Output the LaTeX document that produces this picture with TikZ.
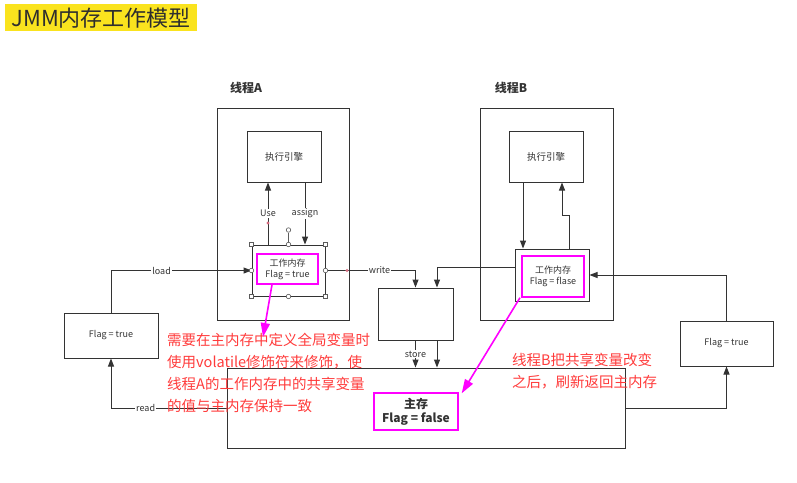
\documentclass[tikz,border=0pt]{standalone}
\usepackage{fontspec}
\setmainfont{Noto Sans CJK SC}
\usetikzlibrary{arrows.meta,positioning}
\definecolor{ink}{HTML}{333333}
\definecolor{note}{HTML}{FF3B3B}
\definecolor{mag}{HTML}{FF00FF}
\definecolor{hilite}{HTML}{FAE31E}
\definecolor{dot}{HTML}{D46A7E}

\begin{document}
\begin{tikzpicture}[x=1pt,y=-1pt,
    every node/.style={font=\fontsize{9}{11}\selectfont,text=ink},
    box/.style={draw=ink,line width=1pt,fill=white,inner sep=0pt},
    mbox/.style={draw=mag,line width=1.4pt,inner sep=0pt,align=center},
    lbl/.style={fill=white,inner sep=1pt},
    flow/.style={draw=ink,line width=1pt,-{Triangle[length=8pt,width=6pt]}},
    callout/.style={draw=mag,line width=1.6pt,-{Triangle[length=14pt,width=9pt]}},
    notetext/.style={text=note,align=left,inner sep=0pt,font=\fontsize{14.5}{22}\selectfont},
    sqhandle/.style={draw=ink!80,fill=white,line width=.6pt,minimum size=4pt,inner sep=0pt},
    cihandle/.style={draw=ink!80,fill=white,line width=.6pt,circle,minimum size=4.5pt,inner sep=0pt}]
  \useasboundingbox (0,0) rectangle (797,482);
  \node[fill=hilite,anchor=north west,minimum width=192pt,minimum height=27pt,inner sep=0pt,
        font=\fontsize{22}{24}\selectfont,text=ink!90!black] (title) at (5,4) {JMM内存工作模型};

  % threads
  \node[font=\fontsize{12}{14}\selectfont\bfseries] (labA) at (246,88) {线程A};
  \node[font=\fontsize{12}{14}\selectfont\bfseries] (labB) at (511,88) {线程B};
  \node[box,minimum width=132pt,minimum height=212pt] (thA) at (283,214) {};
  \node[box,minimum width=133pt,minimum height=212pt] (thB) at (546.5,214) {};
  \node[box,minimum width=74pt,minimum height=51pt,font=\fontsize{9.5}{11}\selectfont] (engA) at (284,156.5) {执行引擎};
  \node[box,minimum width=74pt,minimum height=51pt,font=\fontsize{9.5}{11}\selectfont] (engB) at (546,156.5) {执行引擎};
  \node[box,minimum width=73pt,minimum height=51pt] (wmA) at (288.5,270.5) {};
  \node[mbox,minimum width=61pt,minimum height=30pt] (magA) at (287.5,269) {工作内存\\Flag = true};
  \node[box,minimum width=74pt,minimum height=52pt] (wmB) at (552,275) {};
  \node[mbox,minimum width=62pt,minimum height=41pt] (magB) at (553,276.5) {工作内存\\Flag = flase};

  % outside boxes
  \node[box,minimum width=94pt,minimum height=45pt] (flagL) at (111,335.5) {Flag = true};
  \node[box,minimum width=93pt,minimum height=45pt] (flagR) at (726.5,343.5) {Flag = true};
  \node[box,minimum width=75pt,minimum height=52pt] (mid) at (415.5,314) {};
  \node[box,minimum width=398pt,minimum height=80pt] (main) at (426,408) {};
  \node[mbox,minimum width=84pt,minimum height=37pt,font=\fontsize{12}{14}\selectfont\bfseries] (magM) at (416,411.5) {主存\\Flag = false};

  % thread A
  \draw[flow] ([xshift=-20.5pt]wmA.north) -- node[lbl]{Use} ([xshift=-20.5pt]wmA.north |- engA.south);
  \draw[flow] ([xshift=21pt]engA.south) -- node[lbl]{assign} ([xshift=21pt]engA.south |- wmA.north);
  % thread B
  \draw[flow] ([xshift=-23pt]engB.south) -- ([xshift=-23pt]engB.south |- wmB.north);
  \draw[flow] ([xshift=17pt]wmB.north) -- ++(0,-33) -| ([xshift=16pt]engB.south);

  \draw[flow] (flagL) |- node[lbl,pos=0.68]{load} (wmA);
  \draw[flow] (main.west) -| node[lbl,pos=0.35]{read} (flagL);
  \draw[flow] (wmA) -| node[lbl,pos=0.3]{write} (mid);
  \draw[flow] ([yshift=8pt]wmB.west) -| ([xshift=21.5pt]mid.north);
  \draw[flow] (mid.south) -- node[lbl]{store} (mid.south |- main.north);
  \draw[flow] ([xshift=21.5pt]mid.south) -- ([xshift=21.5pt]mid.south |- main.north);
  \draw[flow] (main.east) -| (flagR);
  \draw[flow] (flagR) |- (wmB);

  % selection handles
  \node[cihandle] (rot) at (288.5,230) {};
  \draw[ink!80,line width=.6pt] (rot) -- (wmA.north);
  \foreach \a in {north west,north east,south west,south east}
    \node[sqhandle] (h-\a) at (wmA.\a) {};
  \foreach \a in {north,south,east,west}
    \node[cihandle] (c-\a) at (wmA.\a) {};
  \fill[dot] (268,223) circle (1.6pt) (347,270.5) circle (1.6pt);

  % notes
  \node[notetext,anchor=north west] (noteA) at (167,333)
    {需要在主内存中定义全局变量时\\使用volatile修饰符来修饰，使\\线程A的工作内存中的共享变量\\的值与主内存保持一致};
  \node[notetext,anchor=north west] (noteB) at (512,353)
    {线程B把共享变量改变\\之后，刷新返回主内存};
  \coordinate (tipA) at (263,337);
  \draw[callout] ([xshift=-15.5pt]magA.south) -- (tipA);
  \draw[callout] ([xshift=-33pt]magB.south) -- ([shift={(3pt,-1pt)}]magM.north east);
\end{tikzpicture}
\end{document}
